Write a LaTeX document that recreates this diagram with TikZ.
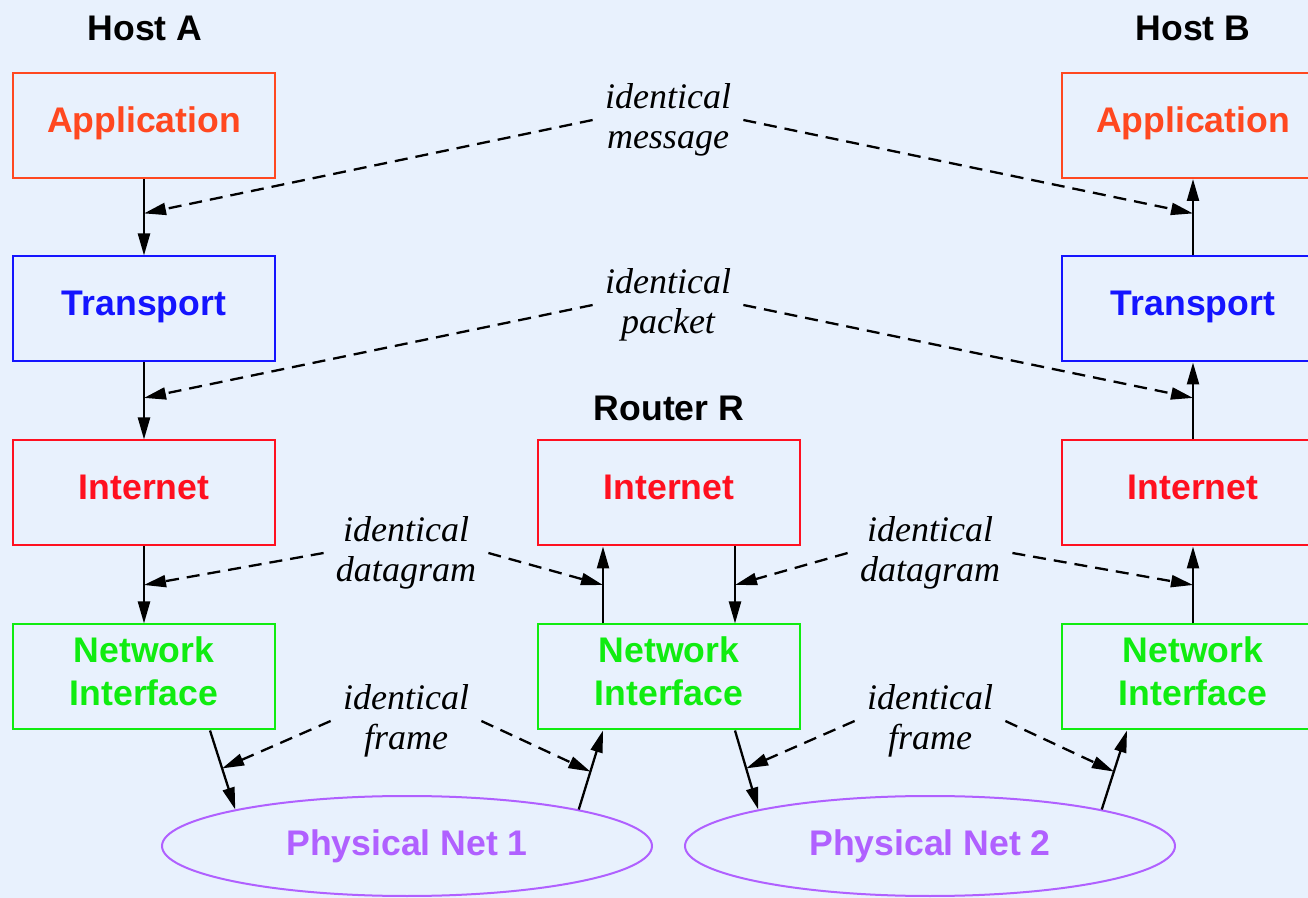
\documentclass[tikz,border=0pt]{standalone}
\usepackage{fontspec}
\setmainfont{Liberation Serif}
\setsansfont{Liberation Sans}
\usetikzlibrary{arrows.meta,shapes.geometric,calc}

\definecolor{bgc}{RGB}{232,241,253}
\definecolor{appc}{RGB}{255,72,32}
\definecolor{trc}{RGB}{20,20,255}
\definecolor{inc}{RGB}{255,16,32}
\definecolor{nic}{RGB}{16,236,16}
\definecolor{netc}{RGB}{176,96,255}

\begin{document}
\begin{tikzpicture}[x=0.5pt, y=-0.5pt,
    every node/.style={font=\sffamily\bfseries\fontsize{17.8}{21}\selectfont},
    layer/.style={draw, line width=1pt, minimum width=131pt, minimum height=52.5pt, text height=13pt, text depth=6pt},
    layer2/.style={layer, align=center, text height=34pt},
    net/.style={ellipse, draw=netc, text=netc, line width=1pt, minimum width=245pt, minimum height=50pt},
    same/.style={font=\itshape\fontsize{18}{20}\selectfont, align=center, inner sep=6pt},
    flow/.style={-{Triangle[length=11pt,width=6pt]}, line width=1.15pt},
    alike/.style={flow, dash pattern=on 6.5pt off 4pt}]
  \fill[bgc] (0,0) rectangle (1308,898);
  \useasboundingbox (0,0) rectangle (1308,898);

  \node (hostA) at (145,28) {Host A};
  \node (hostB) at (1193,28) {Host B};
  \node (router) at (669,408) {Router R};

  \node[layer, appc] (appA) at (144,125.5) {Application};
  \node[layer, trc] (trA) at (144,309) {Transport};
  \node[layer, inc] (inA) at (144,493) {Internet};
  \node[layer2, nic] (niA) at (144,677) {Network\\Interface};

  \node[layer, inc] (inR) at (669,493) {Internet};
  \node[layer2, nic] (niR) at (669,677) {Network\\Interface};

  \node[layer, appc] (appB) at (1193,125.5) {Application};
  \node[layer, trc] (trB) at (1193,309) {Transport};
  \node[layer, inc] (inB) at (1193,493) {Internet};
  \node[layer2, nic] (niB) at (1193,677) {Network\\Interface};

  \node[net] (net1) at (407,846) {Physical Net 1};
  \node[net] (net2) at (930,846) {Physical Net 2};

  \node[same] (msg) at (668,120) {identical\\message};
  \node[same] (pkt) at (668,305) {identical\\packet};
  \node[same] (dg1) at (406,553) {identical\\datagram};
  \node[same] (dg2) at (930,553) {identical\\datagram};
  \node[same] (fr1) at (406,721) {identical\\frame};
  \node[same] (fr2) at (930,721) {identical\\frame};

  % ends of the slanted and shifted lines
  \coordinate (aOut) at ([xshift=33pt]niA.south);
  \coordinate (rIn) at ([xshift=-33pt]niR.south);
  \coordinate (rOut) at ([xshift=33pt]niR.south);
  \coordinate (bIn) at ([xshift=-33pt]niB.south);
  \coordinate (rUpLo) at ([xshift=-33pt]niR.north);
  \coordinate (rUpHi) at ([xshift=-33pt]inR.south);
  \coordinate (rDnHi) at ([xshift=33pt]inR.south);
  \coordinate (rDnLo) at ([xshift=33pt]niR.north);

  % host A down
  \draw[flow] (appA) -- (trA);
  \draw[flow] (trA) -- (inA);
  \draw[flow] (inA) -- (niA);
  \draw[flow] (aOut) -- (net1.168);
  % router
  \draw[flow] (net1.12) -- (rIn);
  \draw[flow] (rUpLo) -- (rUpHi);
  \draw[flow] (rDnHi) -- (rDnLo);
  \draw[flow] (rOut) -- (net2.168);
  % host B up
  \draw[flow] (net2.12) -- (bIn);
  \draw[flow] (niB) -- (inB);
  \draw[flow] (inB) -- (trB);
  \draw[flow] (trB) -- (appB);

  % peer layers
  \draw[alike] (msg.west) -- ($(appA.south)!.45!(trA.north)$);
  \draw[alike] (msg.east) -- ($(appB.south)!.45!(trB.north)$);
  \draw[alike] (pkt.west) -- ($(trA.south)!.46!(inA.north)$);
  \draw[alike] (pkt.east) -- ($(trB.south)!.46!(inB.north)$);
  \draw[alike] (dg1.west) -- ($(inA.south)!.5!(niA.north)$);
  \draw[alike] (dg1.east) -- ($(rUpHi)!.5!(rUpLo)$);
  \draw[alike] (dg2.west) -- ($(rDnHi)!.5!(rDnLo)$);
  \draw[alike] (dg2.east) -- ($(inB.south)!.5!(niB.north)$);
  \draw[alike] (fr1.west) -- ($(aOut)!.48!(net1.168)$);
  \draw[alike] (fr1.east) -- ($(rIn)!.52!(net1.12)$);
  \draw[alike] (fr2.west) -- ($(rOut)!.48!(net2.168)$);
  \draw[alike] (fr2.east) -- ($(bIn)!.52!(net2.12)$);
\end{tikzpicture}
\end{document}
